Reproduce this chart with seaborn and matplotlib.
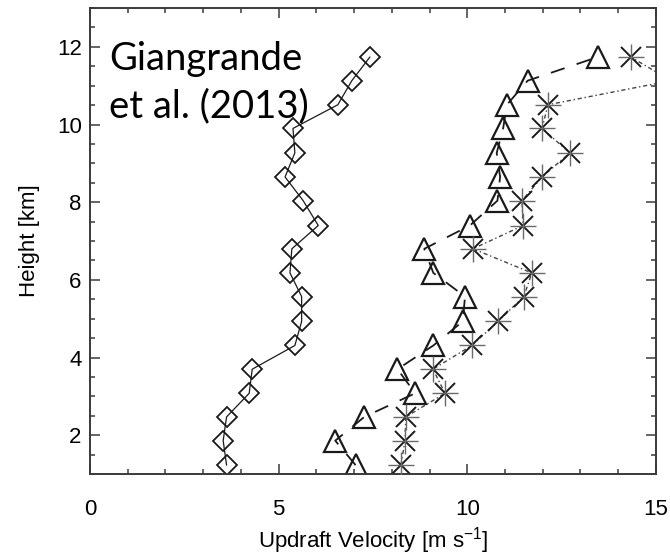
import matplotlib
matplotlib.use("Agg")
import matplotlib.pyplot as plt
from matplotlib.ticker import MultipleLocator
import pandas as pd
import seaborn as sns

# Height levels of the retrieved profiles [km]
heights = [1.23, 1.86, 2.47, 3.08, 3.70, 4.31, 4.93, 5.57, 6.18,
           6.80, 7.40, 8.04, 8.65, 9.27, 9.90, 10.51, 11.13, 11.74]

# Updraft velocity profiles [m s-1]
w_diamond = [3.62, 3.53, 3.62, 4.22, 4.30, 5.43, 5.61, 5.61, 5.30,
             5.35, 6.05, 5.65, 5.17, 5.43, 5.38, 6.57, 6.94, 7.42]
w_triangle = [7.04, 6.50, 7.27, 8.62, 8.15, 9.10, 9.88, 9.94, 9.10,
              8.86, 10.07, 10.80, 10.87, 10.78, 10.95, 11.05, 11.60, 13.46]
w_asterisk = [8.24, 8.35, 8.37, 9.41, 9.09, 10.12, 10.81, 11.50, 11.71,
              10.15, 11.48, 11.45, 11.98, 12.72, 11.98, 12.14, 15.40, 14.33]

x_ticks = [0, 5, 10, 15]
y_ticks = [2, 4, 6, 8, 10, 12]

df = pd.DataFrame({"height": heights, "diamond": w_diamond,
                   "triangle": w_triangle, "asterisk": w_asterisk})

sns.set_theme(style="ticks")
plt.rcParams["font.family"] = ["Liberation Sans", "DejaVu Sans"]

fig = plt.figure(figsize=(6.7, 5.59), dpi=100)
ax = fig.add_axes([0.1343, 0.152, 0.8447, 0.8336])

ink = "#1a1a1a"

# Diamond profile, solid line
sns.lineplot(data=df, x="diamond", y="height", sort=False, estimator=None,
             ax=ax, color=ink, linewidth=0.9, linestyle="-",
             marker="D", markersize=10.5, markerfacecolor="none",
             markeredgecolor=ink, markeredgewidth=1.3)

# Triangle profile, long dashes
sns.lineplot(data=df, x="triangle", y="height", sort=False, estimator=None,
             ax=ax, color=ink, linewidth=1.3, linestyle=(0, (8, 7)),
             marker="^", markersize=16.5, markerfacecolor="none",
             markeredgecolor=ink, markeredgewidth=1.6)

# Asterisk profile, dash-dot line; asterisk = solid cross + faint plus
sns.lineplot(data=df, x="asterisk", y="height", sort=False, estimator=None,
             ax=ax, color="#444444", linewidth=1.0, linestyle=(0, (3, 2, 1, 2)),
             marker="x", markersize=14.5, markerfacecolor="none",
             markeredgecolor=ink, markeredgewidth=1.4)
sns.scatterplot(data=df, x="asterisk", y="height", ax=ax, marker="+",
                s=360, color="#6a6a6a", linewidth=1.0, zorder=3)

ax.set_xlim(0, 15)
ax.set_ylim(1, 13)
ax.set_xticks(x_ticks)
ax.set_yticks(y_ticks)
ax.xaxis.set_minor_locator(MultipleLocator(1))
ax.yaxis.set_minor_locator(MultipleLocator(0.5))

spine_col = "#3a3a3a"
for sp in ax.spines.values():
    sp.set_visible(True)
    sp.set_linewidth(1.4)
    sp.set_color(spine_col)

ax.tick_params(which="both", direction="in", top=True, right=True,
               color=spine_col, width=1.1)
ax.tick_params(which="major", length=7)
ax.tick_params(which="minor", length=3.5)
ax.tick_params(axis="x", which="major", pad=18, labelsize=16, labelcolor="black")
ax.tick_params(axis="y", which="major", pad=6, labelsize=16, labelcolor="black")

ax.set_xlabel("Updraft Velocity [m s$^{\\mathregular{-1}}$]", fontsize=16,
              labelpad=4, color="black")
ax.set_ylabel("Height [km]", fontsize=16, labelpad=12, color="black")

# Citation label, two lines
cite_font = dict(ha="left", va="baseline", fontsize=27.5,
                 family=["Lato", "DejaVu Sans"], color="black")
ax.text(0.50, 11.41, "Giangrande", **cite_font)
ax.text(0.50, 10.18, "et al. (2013)", **cite_font)

fig.savefig("out.png", dpi=100)
